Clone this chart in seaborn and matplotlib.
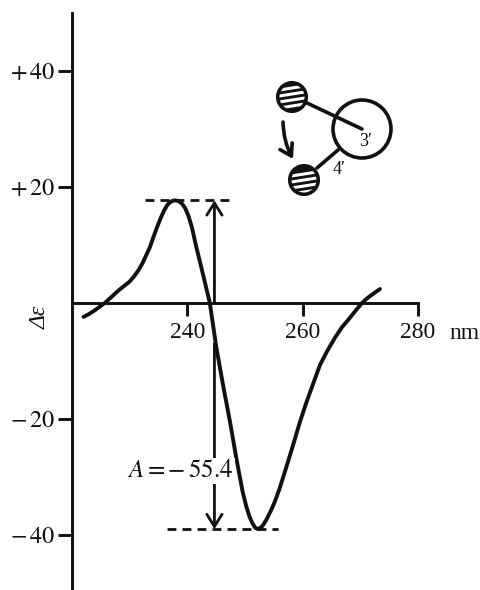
import numpy as np
import pandas as pd
import matplotlib
matplotlib.use("Agg")
import matplotlib.pyplot as plt
import seaborn as sns
from matplotlib.patches import Circle, FancyArrowPatch

wavelength = [222, 222.8, 223.6, 224.6, 225.7, 226.8, 228, 229, 229.9, 230.7, 231.5, 232.2, 232.9, 233.5,
              234.1, 234.8, 235.4, 236.0, 236.6, 237.2, 237.8, 238.4, 239.0, 239.6, 240.2, 240.8,
              241.5, 242.7, 243.9, 245.0, 246.2, 247.4, 248.5, 249.6, 250.2, 250.8, 251.3, 251.8,
              252.3, 253.0, 253.7, 254.5, 255.2, 256.0, 257.2, 258.4, 259.5, 260.7, 261.9, 263.0,
              264.3, 265.6, 266.8, 268.0, 269.2, 270.3, 271.3, 272.4, 273.4]
delta_eps = [-2.4, -2.0, -1.5, -0.8, 0, 1.0, 2.1, 2.9, 3.6, 4.5, 5.6, 6.8, 8.3, 9.6,
             11.3, 13.2, 14.7, 16.0, 17.0, 17.5, 17.7, 17.6, 17.2, 16.4, 15.0, 13.0,
             9.9, 5.0, 0, -7.5, -14.2, -20.5, -26.8, -32.6, -35.0, -36.9, -38.0, -38.8,
             -39.0, -38.5, -37.4, -35.8, -34.2, -32, -28.2, -24.3, -20.6, -17.0, -13.7, -10.7,
             -8.2, -6, -4.2, -2.8, -1.3, 0, 0.9, 1.7, 2.4]
x_ticks = [240, 260, 280]
x_labels = ["240", "260", "280"]
y_ticks = [40, 20, -20, -40]
y_labels = [r"$+\,40$", r"$+\,20$", r"$-\,20$", r"$-\,40$"]
peak = 17.7
trough = -39
amplitude = "$A=-\\,55.4$"

sns.set_theme(style="white")
plt.rcParams["mathtext.fontset"] = "stix"
plt.rcParams["font.family"] = ["Liberation Serif", "DejaVu Serif"]
ink = "#111111"
head = "->,head_length=0.4,head_width=0.25"

df = pd.DataFrame({"nm": wavelength, "de": delta_eps})

fig = plt.figure(figsize=(4.8, 5.9), dpi=100)
ax = fig.add_axes([72 / 480, 0, 346 / 480, 577 / 590])
sns.lineplot(data=df, x="nm", y="de", ax=ax, color=ink, lw=2.8, errorbar=None, sort=False)
ax.set_xlim(220, 280)
ax.set_ylim(-49.5, 50)

ax.spines["top"].set_visible(False)
ax.spines["right"].set_visible(False)
ax.spines["bottom"].set_position(("data", 0))
for s in ["left", "bottom"]:
    ax.spines[s].set_color(ink)
    ax.spines[s].set_linewidth(2.1)
ax.set_xticks(x_ticks)
ax.set_xticklabels(x_labels, fontsize=17, color=ink)
ax.set_yticks(y_ticks)
ax.set_yticklabels(y_labels, fontsize=17.5, color=ink)
ax.tick_params(axis="x", bottom=True, length=9, width=2.1, color=ink, pad=5)
ax.tick_params(axis="y", left=True, length=10, width=2.1, color=ink, pad=2)
ax.set_xlabel("")
ax.set_ylabel("")
ax.text(-0.092, 0.472, "\u0394\u03b5", transform=ax.transAxes, rotation=90, style="italic",
        fontsize=17, ha="center", va="center", color=ink)
ax.text(288, -5.2, "nm", fontsize=17, ha="center", va="center", color=ink, clip_on=False)

# dashed guides and the amplitude arrows
dash = (0, (3.2, 2.2))
ax.hlines(peak, 232.7, 247.6, color=ink, lw=2, ls=dash)
ax.hlines(trough, 236.5, 255.7, color=ink, lw=2, ls=dash)
ax.add_patch(FancyArrowPatch((244.7, 0), (244.7, peak), arrowstyle=head,
                             mutation_scale=22, lw=2, color=ink, shrinkA=0, shrinkB=0))
ax.add_patch(FancyArrowPatch((244.7, -7), (244.7, trough), arrowstyle=head,
                             mutation_scale=22, lw=2, color=ink, shrinkA=0, shrinkB=0))
ax.text(247.9, -29, amplitude, fontsize=18, ha="right", va="center", color=ink,
        bbox=dict(fc="white", ec="none", pad=1.5), zorder=5, clip_on=False)

# molecule sketch, in pixel coordinates of the figure
ov = fig.add_axes([0, 0, 1, 1])
ov.set_xlim(0, 480)
ov.set_ylim(590, 0)
ov.axis("off")
ov.patch.set_alpha(0)
ov.add_patch(Circle((362, 129), 29, fc="white", ec=ink, lw=2.6))
ov.plot([307, 362], [103, 129], color=ink, lw=2.6)
ov.plot([317, 338], [168, 150], color=ink, lw=2.6)
for cx, cy, bands in [(292, 97, [-9, -3, 3, 9]), (304, 180, [-6, 0, 6, 12])]:
    ball = Circle((cx, cy), 15, fc=ink, ec=ink, lw=1.5, zorder=3)
    ov.add_patch(ball)
    for b in bands:
        ln, = ov.plot([cx - 16, cx + 16], [cy + b + 2.5, cy + b - 2.5], color="white", lw=2.2, zorder=4)
        ln.set_clip_path(Circle((cx, cy), 12.5, transform=ov.transData))
ov.add_patch(FancyArrowPatch((283, 122), (293, 159), connectionstyle="arc3,rad=0.12", arrowstyle=head,
                             mutation_scale=20, lw=2.6, color=ink, shrinkA=0, shrinkB=0))
ov.text(366, 142, "3\u2032", fontsize=13, ha="center", va="center", color=ink)
ov.text(339, 169, "4\u2032", fontsize=13, ha="center", va="center", color=ink)

fig.savefig("out.png", dpi=100)
